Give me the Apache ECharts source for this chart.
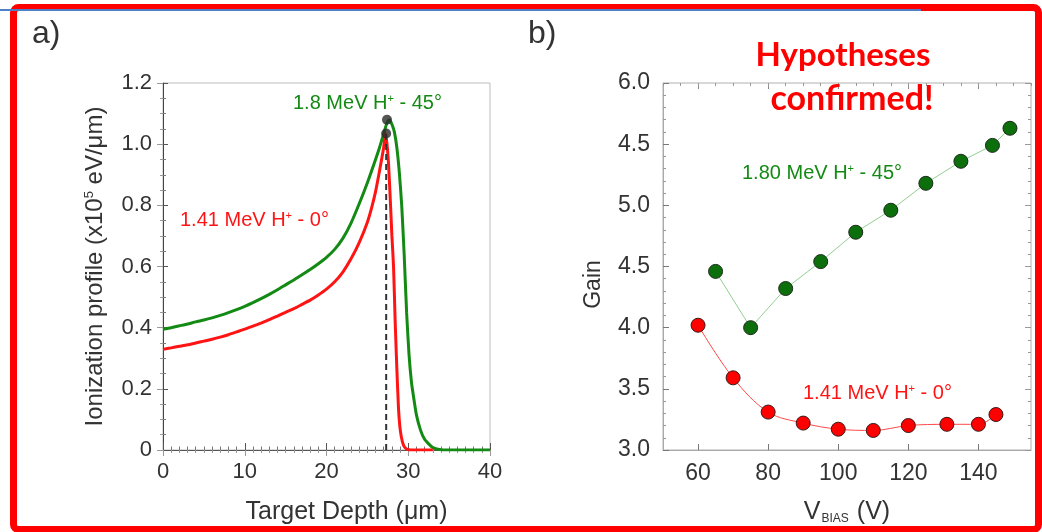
<!DOCTYPE html>
<html>
<head>
<meta charset="utf-8">
<script src="https://cdn.jsdelivr.net/npm/echarts@6/dist/echarts.min.js"></script>
<style>
  html, body { margin: 0; padding: 0; background: #fff; }
  #chart { width: 1042px; height: 532px; }
</style>
</head>
<body>
<div id="chart"></div>
<script>
// ---- a) Ionization profile vs. target depth ----
const depthGreen = [0, 1, 2, 3, 4, 5, 6, 7, 8, 9, 10, 11, 12, 13, 14, 15, 16, 17, 18, 19, 20, 21, 22, 23, 24, 25, 26, 26.5, 27, 27.4, 27.7, 28.0, 28.3, 28.6, 28.9, 29.2, 29.5, 29.8, 30.1, 30.4, 30.7, 31.0, 31.5, 32, 32.5, 33, 34, 36, 38, 40];
const ionGreen   = [0.395, 0.400, 0.406, 0.412, 0.419, 0.425, 0.432, 0.440, 0.449, 0.459, 0.470, 0.482, 0.495, 0.509, 0.524, 0.540, 0.556, 0.573, 0.590, 0.609, 0.630, 0.656, 0.692, 0.742, 0.805, 0.874, 0.950, 0.99, 1.035, 1.07, 1.08, 1.065, 1.04, 0.99, 0.91, 0.80, 0.64, 0.45, 0.31, 0.22, 0.165, 0.115, 0.065, 0.035, 0.02, 0.008, 0.001, 0, 0, 0];

const depthRed = [0, 1, 2, 3, 4, 5, 6, 7, 8, 9, 10, 11, 12, 13, 14, 15, 16, 17, 18, 19, 20, 21, 22, 23, 24, 25, 25.5, 26, 26.5, 27, 27.2, 27.4, 27.6, 27.8, 28.0, 28.2, 28.4, 28.6, 28.8, 29.0, 29.3, 29.6, 30, 31, 32, 33];
const ionRed   = [0.329, 0.334, 0.339, 0.344, 0.350, 0.356, 0.362, 0.369, 0.377, 0.386, 0.395, 0.405, 0.415, 0.426, 0.438, 0.450, 0.462, 0.476, 0.490, 0.507, 0.526, 0.550, 0.582, 0.625, 0.678, 0.745, 0.79, 0.845, 0.915, 0.99, 1.035, 1.00, 0.93, 0.82, 0.70, 0.60, 0.42, 0.27, 0.14, 0.07, 0.025, 0.008, 0.001, 0, 0, 0];

// Bragg peak markers: [45°, 0°]
const peakDepths = [27.4, 27.3];
const peakValues = [1.08, 1.035];

const ionTickLabels = ['0', '0.2', '0.4', '0.6', '0.8', '1.0', '1.2'];

// ---- b) Gain vs. bias voltage ----
const vbiasGreen = [65, 75, 85, 95, 105, 115, 125, 135, 144, 149];
const gainGreen  = [4.46, 4.00, 4.32, 4.54, 4.78, 4.96, 5.18, 5.36, 5.49, 5.63];

const vbiasRed = [60, 70, 80, 90, 100, 110, 120, 131, 140, 145];
const gainRed  = [4.02, 3.59, 3.31, 3.22, 3.17, 3.16, 3.20, 3.21, 3.21, 3.29];

const gainTickLabels = ['3.0', '3.5', '4.0', '4.5', '5.0', '4.5', '6.0'];
const vbiasTickValues = [60, 80, 100, 120, 140];

const FONT = 'Liberation Sans, Arial, Helvetica, sans-serif';
const GREEN = '#138a13';
const RED = '#ff1414';

const zip = (xs, ys) => xs.map((x, i) => [x, ys[i]]);

const chart = echarts.init(document.getElementById('chart'), null, { renderer: 'canvas' });

function mirrorX(gridIndex, min, max, interval, minorSplit, color) {
  return {
    gridIndex, type: 'value', position: 'top', min, max, interval,
    axisLine: { show: false },
    axisTick: { show: true, inside: true, length: 6, lineStyle: { color } },
    minorTick: { show: minorSplit > 0, splitNumber: minorSplit, length: 3, lineStyle: { color } },
    axisLabel: { show: false },
    splitLine: { show: false }
  };
}
function mirrorY(gridIndex, min, max, interval, minorSplit, color) {
  return {
    gridIndex, type: 'value', position: 'right', min, max, interval,
    axisLine: { show: false },
    axisTick: { show: true, inside: true, length: 6, lineStyle: { color } },
    minorTick: { show: true, splitNumber: minorSplit, length: 3, lineStyle: { color } },
    axisLabel: { show: false },
    splitLine: { show: false }
  };
}

const option = {
  backgroundColor: '#ffffff',
  animation: false,
  textStyle: { fontFamily: FONT },
  grid: [
    { left: 163, top: 83, width: 327, height: 367, show: true, borderColor: '#bdbdbd', borderWidth: 1, backgroundColor: 'transparent' },
    { left: 663, top: 83, width: 368, height: 367, show: true, borderColor: '#b0b0b0', borderWidth: 1, backgroundColor: 'transparent' }
  ],
  xAxis: [
    {
      gridIndex: 0, type: 'value', min: 0, max: 40, interval: 10,
      axisLine: { show: true, lineStyle: { color: '#555', width: 1 } },
      axisTick: { show: true, inside: true, length: 7, lineStyle: { color: '#555' } },
      minorTick: { show: true, splitNumber: 10, length: 3.5, lineStyle: { color: '#777' } },
      axisLabel: { color: '#333', fontSize: 22, margin: 11, fontFamily: FONT },
      splitLine: { show: false },
      name: 'Target Depth (\u03bcm)', nameLocation: 'middle', nameGap: 50,
      nameTextStyle: { color: '#333', fontSize: 25, fontFamily: FONT, padding: [0, 0, 0, 40] }
    },
    mirrorX(0, 0, 40, 10, 10, '#999'),
    {
      gridIndex: 1, type: 'value', min: 50, max: 155,
      axisLine: { show: true, lineStyle: { color: '#aaa', width: 1 } },
      axisTick: { show: true, inside: true, length: 6, customValues: vbiasTickValues, lineStyle: { color: '#777' } },
      axisLabel: { color: '#333', fontSize: 23, margin: 12, fontFamily: FONT, customValues: vbiasTickValues },
      splitLine: { show: false },
      name: '{a|V}{b|BIAS}{a| (V)}', nameLocation: 'middle', nameGap: 50,
      nameTextStyle: {
        color: '#333', fontFamily: FONT,
        rich: {
          a: { fontSize: 25, color: '#333', fontFamily: FONT },
          b: { fontSize: 12, color: '#333', fontFamily: FONT, verticalAlign: 'bottom', padding: [0, 1, 0, 1] }
        }
      }
    },
    {
      gridIndex: 1, type: 'value', min: 50, max: 155, interval: 5,
      axisLine: { show: false },
      axisTick: { show: true, inside: true, length: 3, lineStyle: { color: '#888' } },
      axisLabel: { show: false },
      splitLine: { show: false }
    },
    {
      gridIndex: 1, type: 'value', position: 'top', min: 50, max: 155,
      axisLine: { show: false },
      axisTick: { show: true, inside: true, length: 6, customValues: vbiasTickValues, lineStyle: { color: '#888' } },
      axisLabel: { show: false },
      splitLine: { show: false }
    },
    {
      gridIndex: 1, type: 'value', position: 'top', min: 50, max: 155, interval: 5,
      axisLine: { show: false },
      axisTick: { show: true, inside: true, length: 3, lineStyle: { color: '#999' } },
      axisLabel: { show: false },
      splitLine: { show: false }
    }
  ],
  yAxis: [
    {
      gridIndex: 0, type: 'value', min: 0, max: 1.2, interval: 0.2,
      axisLine: { show: true, lineStyle: { color: '#444', width: 1 } },
      axisTick: { show: true, inside: true, length: 5, lineStyle: { color: '#555' } },
      minorTick: { show: true, splitNumber: 4, length: 3, lineStyle: { color: '#777' } },
      axisLabel: {
        color: '#333', fontSize: 22, margin: 11, fontFamily: FONT,
        formatter: v => ionTickLabels[Math.round(v / 0.2)]
      },
      splitLine: { show: false },
      name: '{a|Ionization profile (x10}{s|5}{a| eV/\u03bcm)}', nameLocation: 'middle', nameGap: 56,
      nameTextStyle: {
        color: '#333', fontFamily: FONT,
        rich: {
          a: { fontSize: 24, color: '#333', fontFamily: FONT },
          s: { fontSize: 13, color: '#333', fontFamily: FONT, verticalAlign: 'top' }
        }
      }
    },
    mirrorY(0, 0, 1.2, 0.2, 4, '#999'),
    {
      gridIndex: 1, type: 'value', min: 3, max: 6, interval: 0.5,
      axisLine: { show: true, lineStyle: { color: '#aaa', width: 1 } },
      axisTick: { show: true, inside: true, length: 6, lineStyle: { color: '#777' } },
      minorTick: { show: true, splitNumber: 5, length: 3, lineStyle: { color: '#999' } },
      axisLabel: {
        color: '#333', fontSize: 23, margin: 13, fontFamily: FONT,
        formatter: v => gainTickLabels[Math.round((v - 3) / 0.5)]
      },
      splitLine: { show: false },
      name: 'Gain', nameLocation: 'middle', nameGap: 58,
      nameTextStyle: { color: '#333', fontSize: 23, fontFamily: FONT, padding: [0, 36, 0, 0] }
    },
    mirrorY(1, 3, 6, 0.5, 5, '#999')
  ],
  series: [
    {
      name: '1.8 MeV H+ - 45°', type: 'line', xAxisIndex: 0, yAxisIndex: 0,
      data: zip(depthGreen, ionGreen), showSymbol: false, symbol: 'none',
      smooth: 0.2,
      lineStyle: { color: GREEN, width: 3 }, z: 3
    },
    {
      name: '1.41 MeV H+ - 0°', type: 'line', xAxisIndex: 0, yAxisIndex: 0,
      data: zip(depthRed, ionRed), showSymbol: false, symbol: 'none',
      smooth: 0.2,
      lineStyle: { color: RED, width: 3 }, z: 4
    },
    {
      // vertical guide from the axis up to the 0° Bragg peak
      type: 'line', xAxisIndex: 0, yAxisIndex: 0,
      data: [[peakDepths[1], 0], [peakDepths[1], peakValues[1]]],
      symbol: 'none',
      lineStyle: { color: '#333', width: 2, type: [6, 4] }, z: 5
    },
    {
      type: 'scatter', xAxisIndex: 0, yAxisIndex: 0,
      data: zip(peakDepths, peakValues), symbol: 'circle', symbolSize: 10,
      itemStyle: { color: '#2a2a2a' }, z: 6
    },
    {
      name: '1.80 MeV H+ - 45°', type: 'line', xAxisIndex: 2, yAxisIndex: 2,
      data: zip(vbiasGreen, gainGreen), symbol: 'circle', symbolSize: 14,
      lineStyle: { color: '#93cf93', width: 1 },
      itemStyle: { color: '#0c6f0c', borderColor: '#1d2a1d', borderWidth: 1 }, z: 3
    },
    {
      name: '1.41 MeV H+ - 0°', type: 'line', xAxisIndex: 2, yAxisIndex: 2,
      data: zip(vbiasRed, gainRed), symbol: 'circle', symbolSize: 14,
      smooth: 0.35,
      lineStyle: { color: '#ff4a4a', width: 1 },
      itemStyle: { color: '#ff0000', borderColor: '#3a1a1a', borderWidth: 1 }, z: 3
    }
  ],
  graphic: [
    {
      type: 'rect', z: 100, silent: true,
      shape: { x: 13.5, y: 7.5, width: 1025, height: 522, r: 5 },
      style: { fill: 'none', stroke: '#ff0000', lineWidth: 7 }
    },
    {
      type: 'line', z: 101, silent: true,
      shape: { x1: 0, y1: 10, x2: 921, y2: 10 },
      style: { stroke: '#4f7fc4', lineWidth: 2 }
    },
    { type: 'text', x: 32, y: 34, z: 50, style: { text: 'a)', font: '32px ' + FONT, fill: '#333', verticalAlign: 'middle' } },
    { type: 'text', x: 528, y: 34, z: 50, style: { text: 'b)', font: '32px ' + FONT, fill: '#333', verticalAlign: 'middle' } },
    { type: 'text', x: 843, y: 55, z: 50, style: { text: 'Hypotheses', font: 'bold 33px Lato, "Open Sans", sans-serif', fill: '#ff0000', align: 'center', verticalAlign: 'middle' } },
    { type: 'text', x: 852, y: 99, z: 50, style: { text: 'confirmed!', font: 'bold 34px Lato, "Open Sans", sans-serif', fill: '#ff0000', align: 'center', verticalAlign: 'middle' } },
    {
      type: 'text', x: 293, y: 103, z: 50,
      style: {
        text: '{t|1.8 MeV H}{s|+}{t| - 45°}', verticalAlign: 'middle',
        rich: { t: { fontSize: 20, fontFamily: FONT, fill: GREEN }, s: { fontSize: 11, fontFamily: FONT, fill: GREEN, verticalAlign: 'top' } }
      }
    },
    {
      type: 'text', x: 180, y: 220, z: 50,
      style: {
        text: '{t|1.41 MeV H}{s|+}{t| - 0°}', verticalAlign: 'middle',
        rich: { t: { fontSize: 20, fontFamily: FONT, fill: RED }, s: { fontSize: 11, fontFamily: FONT, fill: RED, verticalAlign: 'top' } }
      }
    },
    {
      type: 'text', x: 742, y: 173, z: 50,
      style: {
        text: '{t|1.80 MeV H}{s|+}{t| - 45°}', verticalAlign: 'middle',
        rich: { t: { fontSize: 20, fontFamily: FONT, fill: GREEN }, s: { fontSize: 11, fontFamily: FONT, fill: GREEN, verticalAlign: 'top' } }
      }
    },
    {
      type: 'text', x: 803, y: 393, z: 50,
      style: {
        text: '{t|1.41 MeV H}{s|+}{t| - 0°}', verticalAlign: 'middle',
        rich: { t: { fontSize: 20, fontFamily: FONT, fill: RED }, s: { fontSize: 11, fontFamily: FONT, fill: RED, verticalAlign: 'top' } }
      }
    }
  ]
};

chart.setOption(option);
</script>
</body>
</html>
